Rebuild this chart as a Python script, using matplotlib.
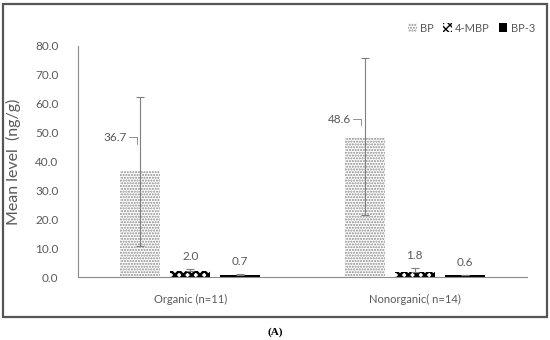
import numpy as np
import matplotlib
matplotlib.use("Agg")
import matplotlib.pyplot as plt
from matplotlib.patches import Rectangle

# ---- data ----
groups = ["Organic (n=11)", "Nonorganic( n=14)"]
series = ["BP", "4-MBP", "BP-3"]
means = {"BP": [36.7, 48.6], "4-MBP": [2.0, 1.8], "BP-3": [0.7, 0.6]}
err_lo = {"BP": [25.8, 27.1], "4-MBP": [0.0, 0.0], "BP-3": [0.0, 0.0]}
err_hi = {"BP": [25.8, 27.2], "4-MBP": [0.7, 1.2], "BP-3": [0.3, 0.2]}
label_y = [48.4, 54.7]   # where the BP labels were dragged to
yticks = np.arange(0, 81, 10)

plt.rcParams['font.family'] = ['Lato', 'DejaVu Sans']
plt.rcParams['hatch.linewidth'] = 1.0
txt = '#595959'
grey = '#7f7f7f'

fig = plt.figure(figsize=(5.5, 3.4), dpi=100)
ax = fig.add_axes([78/550, 1-277/340, 449/550, 231/340])

x = np.arange(len(groups))
w = 0.178
step = 0.2227
styles = {
    "BP": dict(facecolor='white', hatch='......', edgecolor='#8a8a8a', linewidth=0),
    "4-MBP": dict(facecolor='white', hatch='xxxx', edgecolor='black', linewidth=0),
    "BP-3": dict(facecolor='black', edgecolor='black', linewidth=0),
}
hlw = {"BP": 1.0, "4-MBP": 1.8, "BP-3": 1.0}
handles = []
for i, s in enumerate(series):
    pos = x + (i - 1) * step
    b = ax.bar(pos, means[s], w, label=s, **styles[s])
    for p in b.patches:
        if hasattr(p, 'set_hatch_linewidth'):
            p.set_hatch_linewidth(hlw[s])
    handles.append(b)
    ax.errorbar(pos, means[s], yerr=[err_lo[s], err_hi[s]], fmt='none',
                ecolor=grey, elinewidth=0.8, capsize=3, capthick=0.8)
    if s == "BP":
        for j in range(len(groups)):
            ax.text(pos[j] - 0.06, label_y[j], f"{means[s][j]:.1f}",
                    ha='right', va='center', fontsize=8.5, color=txt)
            # little excel-style leader line
            ax.plot([pos[j] - 0.052, pos[j] - 0.016, pos[j] - 0.016],
                    [label_y[j], label_y[j], label_y[j] - 2.2],
                    color=grey, lw=0.6)
    else:
        for j in range(len(groups)):
            top = means[s][j] + err_hi[s][j]
            ax.annotate(f"{means[s][j]:.1f}", xy=(pos[j], top), xytext=(0, 5),
                        textcoords='offset points', ha='center', va='bottom',
                        fontsize=8.5, color=txt)

ax.set_xlim(-0.5, 1.5)
ax.set_ylim(0, 80)
ax.set_yticks(yticks)
ax.set_yticklabels([f"{v:.1f}" for v in yticks], fontsize=8.5, color=txt)
ax.set_xticks(x)
ax.set_xticklabels(groups, fontsize=8, color=txt)
ax.tick_params(axis='both', length=0)
ax.tick_params(axis='y', pad=14)
ax.tick_params(axis='x', pad=12)
for sp in ["top", "right"]:
    ax.spines[sp].set_visible(False)
ax.spines["left"].set_color('#8c8c8c')
ax.spines["bottom"].set_color('#8c8c8c')
ax.set_ylabel("Mean level  (ng/g)", fontsize=11.5, color=txt, labelpad=10)

fig.legend(handles=handles, labels=series, loc='center right',
           bbox_to_anchor=(545/550, 1-28/340), ncol=3, frameon=False,
           fontsize=8, handlelength=0.8, handleheight=0.8, handletextpad=0.3,
           columnspacing=0.8, labelcolor=txt)

fig.patches.append(Rectangle((3/550, 1-317/340), 544/550, 313/340,
                             transform=fig.transFigure, fill=False,
                             edgecolor='#555555', linewidth=1.6))
fig.text(0.5, 1-332/340, "(A)", ha='center', va='center', fontsize=8,
         fontweight='bold', family=['Liberation Serif', 'DejaVu Serif'])

fig.savefig('out.png', dpi=100)
